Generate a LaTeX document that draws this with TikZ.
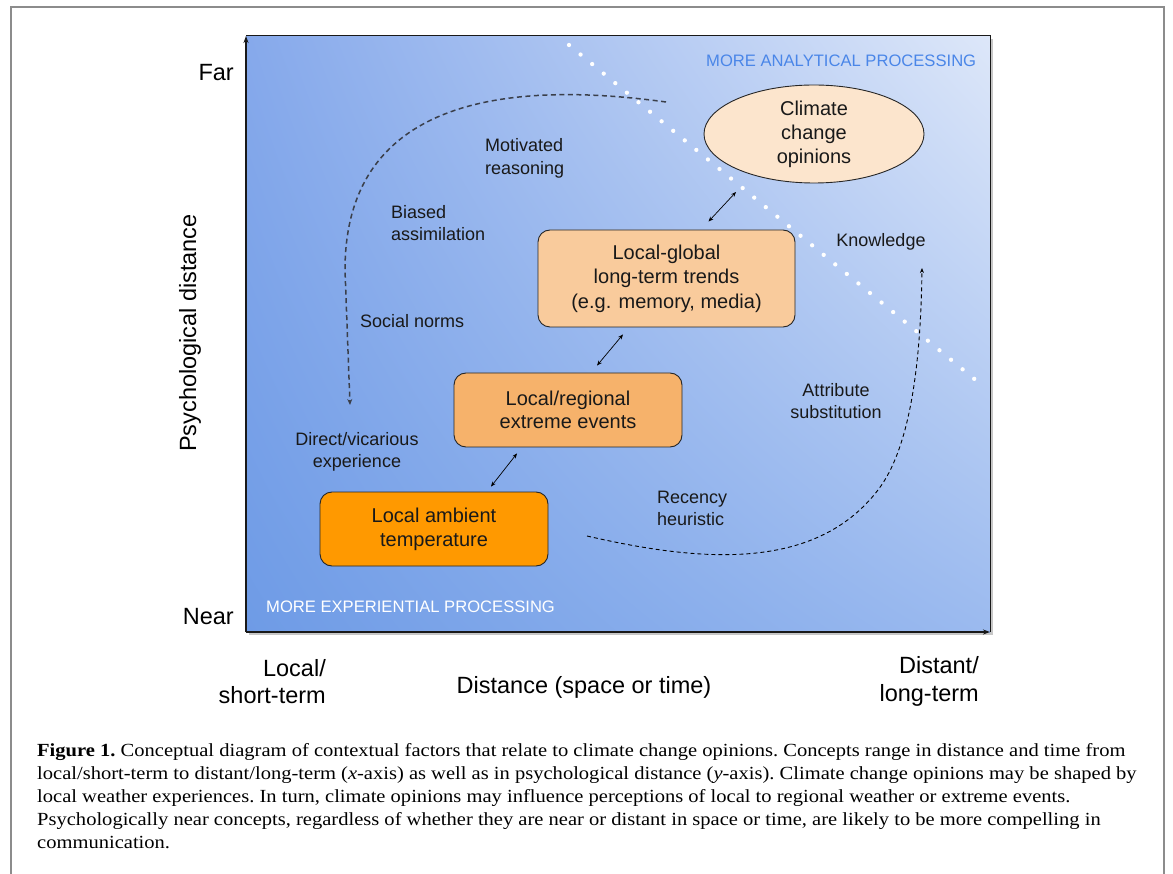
\documentclass[tikz,border=0pt]{standalone}
\usepackage{fontspec}
\setmainfont{Liberation Serif}
\setsansfont{Liberation Sans}
\newfontfamily\capfont{Liberation Serif}[FakeStretch=1.11]
\usetikzlibrary{arrows.meta,shapes.geometric,shadings}
\definecolor{frameg}{HTML}{8C8C8C}
\definecolor{bgLL}{HTML}{6E9BE6}
\definecolor{bgUL}{HTML}{86A9EB}
\definecolor{bgLR}{HTML}{9BBAEF}
\definecolor{bgUR}{HTML}{DDE7F9}
\definecolor{ambfill}{HTML}{FF9900}
\definecolor{regfill}{HTML}{F6B26B}
\definecolor{trdfill}{HTML}{F9CB9C}
\definecolor{clmfill}{HTML}{FCE5CD}
\definecolor{anablue}{HTML}{4A86E8}
\definecolor{dashg}{HTML}{3A3F4A}
\begin{document}
\begin{tikzpicture}[x=1pt,y=-1pt,
  lab/.style={font=\sffamily\fontsize{18}{22.5}\selectfont, text=black!90, inner sep=0pt, align=left},
  ax/.style={font=\sffamily\fontsize{23.5}{27.5}\selectfont, inner sep=0pt, text=black},
  box/.style={draw=black!85, line width=0.9pt, rounded corners=12pt, font=\sffamily\fontsize{20}{24}\selectfont, align=center, inner sep=0pt, text=black!90},
  link/.style={{Stealth[length=5pt,width=4pt]}-{Stealth[length=5pt,width=4pt]}, line width=0.7pt, black},
  proc/.style={font=\sffamily\fontsize{16.6}{20}\selectfont, inner sep=0pt},
]
\useasboundingbox (0,0) rectangle (1173,874);
\fill[white] (0,0) rectangle (1173,874);
% outer frame (open at bottom)
\draw[frameg, line width=1.6pt] (11,880) -- (11,7) -- (1164,7) -- (1164,880);
% plot area
\fill[black!22] (249,39) rectangle (993,635);
\shade[lower left=bgLL, upper left=bgUL, lower right=bgLR, upper right=bgUR] (246,36) rectangle (990,632);
\coordinate (orig) at (246,632);
\coordinate (ytop) at (246,36);
\coordinate (xend) at (990,632);
\draw[black!90, line width=1pt] (246,36) -- (990,36) -- (990,632);
\draw[black!90, line width=1.2pt, -{Stealth[length=7pt,width=5pt]}] (orig) -- (ytop);
\draw[black!90, line width=1.2pt, -{Stealth[length=7pt,width=5pt]}] (orig) -- (xend);
% dotted divider
\coordinate (dv0) at (569,45);
\coordinate (dv1) at (978,382);
\draw[white, line width=4.3pt, line cap=round, dash pattern=on 0pt off 15pt] (dv0) -- (dv1);
% processing labels
\node[proc, text=anablue, anchor=west] (ana) at (706,61) {MORE ANALYTICAL PROCESSING};
\node[proc, text=white, anchor=west] (exp) at (266,607) {MORE EXPERIENTIAL PROCESSING};
% concept nodes
\node[ellipse, draw=black!85, line width=0.9pt, fill=clmfill, minimum width=220pt, minimum height=98pt, inner sep=0pt, align=center, font=\sffamily\fontsize{20}{24}\selectfont, text=black!90] (clim) at (814,134) {Climate\\change\\opinions};
\node[box, fill=trdfill, minimum width=257pt, minimum height=97pt, font=\sffamily\fontsize{20}{24.5}\selectfont] (trend) at (666.5,278.5) {Local-global\\long-term trends\\(e.g. memory, media)};
\node[box, fill=regfill, minimum width=228pt, minimum height=74pt, font=\sffamily\fontsize{20}{23.5}\selectfont] (reg) at (568,410) {Local/regional\\extreme events};
\node[box, fill=ambfill, minimum width=228pt, minimum height=74pt] (amb) at (434,529) {Local ambient\\temperature};
% links
\draw[link] ([shift={(42,-8)}]trend.north) -- ([shift={(-78,58)}]clim.center);
\draw[link] ([shift={(29,-7)}]reg.north) -- ([shift={(-43.5,7)}]trend.south);
\draw[link] ([shift={(57,-5)}]amb.north) -- ([shift={(-51,6)}]reg.south);
% dashed curves
\coordinate (mr0) at (666,102);
\coordinate (mr1) at (350,405);
\draw[dashg, line width=1.5pt, dash pattern=on 5pt off 3.5pt, -{Stealth[length=6pt,width=5pt]}] (mr0) .. controls (520,82) and (345,92) .. (345,270) -- (mr1);
\coordinate (rh0) at (587,536);
\coordinate (rh1) at (922,268);
\draw[black, line width=0.9pt, dash pattern=on 4pt off 3pt, -{Stealth[length=5pt,width=4pt]}] (rh0) .. controls (700,562) and (815,572) .. (878,490) .. controls (915,442) and (921,340) .. (rh1);
% labels
\node[lab, anchor=west] (mot) at (485,158.5) {Motivated\\reasoning};
\node[lab, anchor=west] (bia) at (391,223) {Biased\\assimilation};
\node[lab, anchor=west] (soc) at (360,321) {Social norms};
\node[lab, align=center] (dir) at (357,452) {Direct/vicarious\\experience};
\node[lab] (kno) at (881,242) {Knowledge};
\node[lab, align=center] (att) at (836,401) {Attribute\\substitution};
\node[lab, anchor=west] (rec) at (657,508.5) {Recency\\heuristic};
% axis labels
\node[ax, anchor=east] (far) at (234,73) {Far};
\node[ax, anchor=east] (near) at (234,617) {Near};
\node[ax, rotate=90] (psy) at (190,333) {Psychological distance};
\node[ax, align=right, anchor=east] (loc) at (326,681.5) {Local/\\short-term};
\node[ax] (dist) at (584,687) {Distance (space or time)};
\node[ax, align=right, anchor=east] (dst) at (979,681.5) {Distant/\\long-term};
% caption
\node[anchor=north west, align=left, inner sep=0pt, font=\capfont\fontsize{18.5}{23}\selectfont\frenchspacing] (cap) at (37,743) {\textbf{Figure 1.} Conceptual diagram of contextual factors that relate to climate change opinions. Concepts range in distance and time from\\
local/short-term to distant/long-term (\textit{x}-axis) as well as in psychological distance (\textit{y}-axis). Climate change opinions may be shaped by\\
local weather experiences. In turn, climate opinions may influence perceptions of local to regional weather or extreme events.\\
Psychologically near concepts, regardless of whether they are near or distant in space or time, are likely to be more compelling in\\
communication.};
\end{tikzpicture}
\end{document}
